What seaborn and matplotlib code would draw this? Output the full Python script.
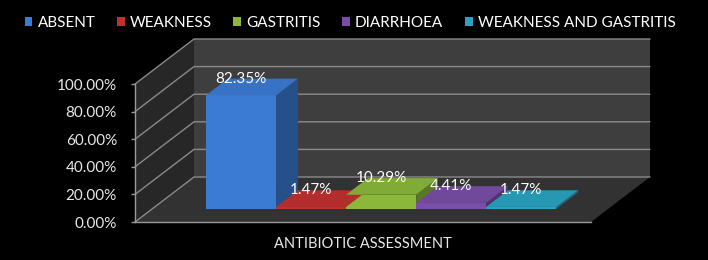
import numpy as np
import pandas as pd
import matplotlib
matplotlib.use("Agg")
import matplotlib.pyplot as plt
import seaborn as sns
from matplotlib.patches import Polygon, Patch
from matplotlib.colors import to_rgb

# --- data ---
categories = ["ABSENT", "WEAKNESS", "GASTRITIS", "DIARRHOEA", "WEAKNESS AND GASTRITIS"]
values = [82.35, 1.47, 10.29, 4.41, 1.47]
colors = ["#3b7bd4", "#c0302f", "#8bb83b", "#7a4ea8", "#2aa3c0"]
yticks = [0, 20, 40, 60, 80, 100]
xlabel = "ANTIBIOTIC ASSESSMENT"

df = pd.DataFrame({"category": categories, "value": values})

sns.set_style("dark")
plt.rcParams["font.family"] = ["Lato", "DejaVu Sans"]

fig = plt.figure(figsize=(7.08, 2.6), dpi=100, facecolor="black")
ax = fig.add_axes([135 / 708, 38 / 260, 456 / 708, 138 / 260])
ax.set_facecolor("none")

sns.barplot(data=df, x="category", y="value", hue="category", palette=colors,
            width=1.0, saturation=1, legend=False, ax=ax, zorder=5)
bars = list(ax.patches)

ax.set_xlim(-1.27, 5.24)
ax.set_ylim(0, 100)

# depth of the fake 3d box (pixels -> data units)
px_x = 456 / (5.24 + 1.27)
px_y = 138 / 100
Dx, Dy = 59 / px_x, 45 / px_y
xl, xr = ax.get_xlim()

wall_kw = dict(clip_on=False, lw=0)
ax.add_patch(Polygon([(xl + Dx, Dy), (xr + Dx, Dy), (xr + Dx, 100 + Dy), (xl + Dx, 100 + Dy)],
                     fc="#3e3e3e", zorder=0, **wall_kw))
ax.add_patch(Polygon([(xl, 0), (xl, 100), (xl + Dx, 100 + Dy), (xl + Dx, Dy)],
                     fc="#272727", zorder=0, **wall_kw))
ax.add_patch(Polygon([(xl, 0), (xr, 0), (xr + Dx, Dy), (xl + Dx, Dy)],
                     fc="#323232", zorder=0, **wall_kw))
for t in yticks:
    ax.plot([xl, xl + Dx, xr + Dx], [t, t + Dy, t + Dy], color="#8a8a8a", lw=1,
            clip_on=False, zorder=1)

# front face shift and bar depth
f0, d = 0.29, 0.37
for patch, col in zip(bars, colors):
    x, w, h = patch.get_x(), patch.get_width(), patch.get_height()
    x0, y0 = x + f0 * Dx, f0 * Dy
    patch.set_xy((x0, y0))
    patch.set_clip_on(False)
    patch.set_edgecolor("none")
    rgb = np.array(to_rgb(col))
    top = Polygon([(x0, y0 + h), (x0 + w, y0 + h), (x0 + w + d * Dx, y0 + h + d * Dy),
                   (x0 + d * Dx, y0 + h + d * Dy)], fc=rgb * 0.93, lw=0, clip_on=False, zorder=6)
    side = Polygon([(x0 + w, y0), (x0 + w, y0 + h), (x0 + w + d * Dx, y0 + h + d * Dy),
                    (x0 + w + d * Dx, y0 + d * Dy)], fc=rgb * 0.65, lw=0, clip_on=False, zorder=4)
    ax.add_patch(top)
    ax.add_patch(side)
    ax.text(x + w / 2 + f0 * Dx, h + (f0 + d) * Dy, f"{h:.2f}%", color="white",
            ha="center", va="center", fontsize=11, zorder=8, clip_on=False)

ax.set_yticks(yticks)
ax.set_yticklabels([f"{t:.2f}%" for t in yticks], color="#e8e8e8", fontsize=11)
ax.tick_params(axis="y", left=True, length=3, color="#9a9a9a", width=1, pad=10)
ax.set_xticks([])
ax.set_xlabel(xlabel, color="#e8e8e8", fontsize=10.5, labelpad=11)
ax.set_ylabel("")
ax.grid(False)
for s in ["top", "right"]:
    ax.spines[s].set_visible(False)
for s in ["left", "bottom"]:
    ax.spines[s].set_color("#9a9a9a")
    ax.spines[s].set_linewidth(1)

handles = [Patch(facecolor=c, edgecolor="none") for c in colors]
fig.legend(handles, categories, loc="center", bbox_to_anchor=(350 / 708, 1 - 23 / 260),
           ncol=5, frameon=False, labelcolor="white", fontsize=11,
           handlelength=0.52, handleheight=0.52, handletextpad=0.33, columnspacing=1.4)

fig.savefig("out.png", dpi=100, facecolor="black")
